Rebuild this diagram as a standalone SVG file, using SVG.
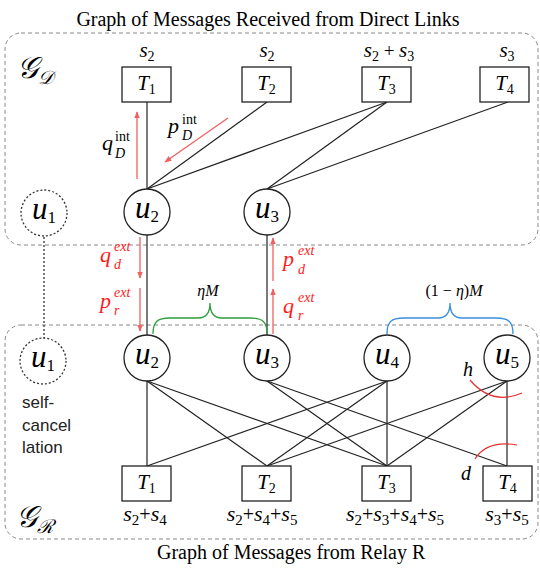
<svg xmlns="http://www.w3.org/2000/svg" width="540" height="568" viewBox="0 0 540 568">
<style>
.mi{font-family:"Liberation Serif","DejaVu Serif",serif;font-style:italic}
.rm{font-family:"Liberation Serif","DejaVu Serif",serif;font-style:normal}
.sans{font-family:"Liberation Sans",Arial,sans-serif}
.box{fill:#fff;stroke:#222;stroke-width:1.3}
.node{fill:#fff;stroke:#222;stroke-width:1.3}
.dot{fill:#fff;stroke:#333;stroke-width:1.3;stroke-dasharray:2 2}
.area{fill:none;stroke:#888;stroke-width:1;stroke-dasharray:4 3}
.edge{stroke:#222;stroke-width:1.2;fill:none}
.rarr{stroke:#f06060;stroke-width:1.3;fill:none}
.red{fill:#ff1a1a}
</style>
<defs>
<marker id="ah" viewBox="0 0 10 10" refX="9" refY="5" markerWidth="7" markerHeight="7" orient="auto" markerUnits="userSpaceOnUse">
<path d="M0,1 L10,5 L0,9 z" fill="#f06060"/>
</marker>
</defs>
<rect width="540" height="568" fill="#fff"/>

<text x="268" y="26" text-anchor="middle" class="rm" font-size="20">Graph of Messages Received from Direct Links</text>
<text x="157" y="559" class="rm" font-size="20">Graph of Messages from Relay R</text>

<g id="areaD">
<rect class="area" x="5" y="33" width="533" height="212" rx="16"/>
<text x="17" y="78" class="mi" font-size="30">𝒢<tspan dy="6" font-size="19">𝒟</tspan></text>
</g>
<g id="areaR">
<rect class="area" x="5" y="325" width="533" height="214" rx="16"/>
<text x="16" y="527" class="mi" font-size="30">𝒢<tspan dy="6" font-size="19">ℛ</tspan></text>
</g>

<g id="connectors">
<!-- top graph -->
<line class="edge" x1="147" y1="189" x2="147" y2="102"/>
<line class="edge" x1="147" y1="189" x2="267" y2="102"/>
<line class="edge" x1="147" y1="189" x2="387" y2="102"/>
<line class="edge" x1="267" y1="189" x2="387" y2="102"/>
<line class="edge" x1="267" y1="189" x2="508" y2="102"/>
<!-- between -->
<line class="edge" x1="147" y1="235" x2="147" y2="335"/>
<line class="edge" x1="267" y1="235" x2="267" y2="335"/>
<line x1="44" y1="237" x2="44" y2="339" stroke="#333" stroke-width="1.3" stroke-dasharray="2 2"/>
<!-- bottom graph -->
<line class="edge" x1="147" y1="381" x2="147" y2="466"/>
<line class="edge" x1="147" y1="381" x2="267" y2="466"/>
<line class="edge" x1="147" y1="381" x2="387" y2="466"/>
<line class="edge" x1="267" y1="381" x2="387" y2="466"/>
<line class="edge" x1="267" y1="381" x2="507" y2="466"/>
<line class="edge" x1="387" y1="381" x2="147" y2="466"/>
<line class="edge" x1="387" y1="381" x2="267" y2="466"/>
<line class="edge" x1="387" y1="381" x2="387" y2="466"/>
<line class="edge" x1="507" y1="381" x2="267" y2="466"/>
<line class="edge" x1="507" y1="381" x2="387" y2="466"/>
<line class="edge" x1="507" y1="381" x2="507" y2="466"/>
<!-- red flow arrows -->
<line class="rarr" x1="137" y1="179" x2="137" y2="112" marker-end="url(#ah)"/>
<line class="rarr" x1="228" y1="118" x2="165" y2="162" marker-end="url(#ah)"/>
<line class="rarr" x1="140" y1="237" x2="140" y2="278" marker-end="url(#ah)"/>
<line class="rarr" x1="140" y1="288" x2="140" y2="331" marker-end="url(#ah)"/>
<line class="rarr" x1="273" y1="281" x2="273" y2="238" marker-end="url(#ah)"/>
<line class="rarr" x1="273" y1="334" x2="273" y2="289" marker-end="url(#ah)"/>
<!-- braces -->
<path d="M153,334 C153,322 157,318 170,318 L198,318 C206,318 210,313 210,303 C210,313 214,318 222,318 L250,318 C263,318 267,322 267,334" fill="none" stroke="#2e9e3e" stroke-width="1.3"/>
<path d="M387,334 C387,322 391,318 404,318 L438,318 C446,318 450,313 450,303 C450,313 454,318 462,318 L496,318 C509,318 513,322 513,334" fill="none" stroke="#3a8ee0" stroke-width="1.3"/>
<!-- angle arcs -->
<path d="M470,380 Q492,406 522,393" fill="none" stroke="#e53030" stroke-width="1.2"/>
<path d="M475,459 Q487,440 517,445" fill="none" stroke="#e53030" stroke-width="1.2"/>
</g>

<g id="labels">
<text x="102" y="150" class="mi" font-size="22">q</text>
<text x="115" y="141" class="rm" font-size="14">int</text>
<text x="115" y="158" class="mi" font-size="14">D</text>
<text x="168" y="133" class="mi" font-size="22">p</text>
<text x="182" y="124" class="rm" font-size="14">int</text>
<text x="182" y="140" class="mi" font-size="14">D</text>

<text x="100" y="262" class="mi red" font-size="22">q</text>
<text x="114" y="251" class="mi red" font-size="14">ext</text>
<text x="114" y="269" class="mi red" font-size="14">d</text>
<text x="100" y="308" class="mi red" font-size="22">p</text>
<text x="114" y="297" class="mi red" font-size="14">ext</text>
<text x="114" y="315" class="mi red" font-size="14">r</text>

<text x="283" y="266" class="mi red" font-size="22">p</text>
<text x="298" y="255" class="mi red" font-size="14">ext</text>
<text x="298" y="274" class="mi red" font-size="14">d</text>
<text x="283" y="313" class="mi red" font-size="22">q</text>
<text x="298" y="302" class="mi red" font-size="14">ext</text>
<text x="298" y="320" class="mi red" font-size="14">r</text>

<text x="208" y="296" text-anchor="middle" class="mi" font-size="16">ηM</text>
<text x="454" y="296" text-anchor="middle" class="rm" font-size="16">(1 − <tspan class="mi">η</tspan>)<tspan class="mi">M</tspan></text>

<text x="463" y="376" class="mi" font-size="20">h</text>
<text x="461" y="480" class="mi" font-size="20">d</text>

<text x="22" y="408" class="sans" font-size="17" fill="#222">self-</text>
<text x="22" y="431" class="sans" font-size="17" fill="#222">cancel</text>
<text x="22" y="453" class="sans" font-size="17" fill="#222">lation</text>

<text x="147" y="57" text-anchor="middle" class="mi" font-size="21">s<tspan dy="4" font-size="14" class="rm">2</tspan></text>
<text x="267" y="57" text-anchor="middle" class="mi" font-size="21">s<tspan dy="4" font-size="14" class="rm">2</tspan></text>
<text x="389" y="57" text-anchor="middle" class="mi" font-size="21">s<tspan dy="4" font-size="14" class="rm">2</tspan><tspan dy="-4" class="rm" font-family="DejaVu Serif" font-size="19"> + </tspan>s<tspan dy="4" font-size="14" class="rm">3</tspan></text>
<text x="507" y="57" text-anchor="middle" class="mi" font-size="21">s<tspan dy="4" font-size="14" class="rm">3</tspan></text>

<text x="145" y="521" text-anchor="middle" class="mi" font-size="22">s<tspan dy="4" font-size="15" class="rm">2</tspan><tspan dy="-4" class="rm" font-family="DejaVu Serif" font-size="20">+</tspan>s<tspan dy="4" font-size="15" class="rm">4</tspan></text>
<text x="262" y="521" text-anchor="middle" class="mi" font-size="22">s<tspan dy="4" font-size="15" class="rm">2</tspan><tspan dy="-4" class="rm" font-family="DejaVu Serif" font-size="20">+</tspan>s<tspan dy="4" font-size="15" class="rm">4</tspan><tspan dy="-4" class="rm" font-family="DejaVu Serif" font-size="20">+</tspan>s<tspan dy="4" font-size="15" class="rm">5</tspan></text>
<text x="395" y="521" text-anchor="middle" class="mi" font-size="22">s<tspan dy="4" font-size="15" class="rm">2</tspan><tspan dy="-4" class="rm" font-family="DejaVu Serif" font-size="20">+</tspan>s<tspan dy="4" font-size="15" class="rm">3</tspan><tspan dy="-4" class="rm" font-family="DejaVu Serif" font-size="20">+</tspan>s<tspan dy="4" font-size="15" class="rm">4</tspan><tspan dy="-4" class="rm" font-family="DejaVu Serif" font-size="20">+</tspan>s<tspan dy="4" font-size="15" class="rm">5</tspan></text>
<text x="507" y="521" text-anchor="middle" class="mi" font-size="22">s<tspan dy="4" font-size="15" class="rm">3</tspan><tspan dy="-4" class="rm" font-family="DejaVu Serif" font-size="20">+</tspan>s<tspan dy="4" font-size="15" class="rm">5</tspan></text>
</g>

<g id="D_T1"><rect class="box" x="122" y="67" width="49" height="35"/><text x="146.5" y="90" text-anchor="middle" class="mi" font-size="21">T<tspan dy="4" font-size="14" class="rm">1</tspan></text></g>
<g id="D_T2"><rect class="box" x="242" y="67" width="49" height="35"/><text x="266.5" y="90" text-anchor="middle" class="mi" font-size="21">T<tspan dy="4" font-size="14" class="rm">2</tspan></text></g>
<g id="D_T3"><rect class="box" x="362" y="67" width="49" height="35"/><text x="386.5" y="90" text-anchor="middle" class="mi" font-size="21">T<tspan dy="4" font-size="14" class="rm">3</tspan></text></g>
<g id="D_T4"><rect class="box" x="480" y="67" width="49" height="35"/><text x="504.5" y="90" text-anchor="middle" class="mi" font-size="21">T<tspan dy="4" font-size="14" class="rm">4</tspan></text></g>

<g id="D_u1"><circle class="dot" cx="44" cy="213" r="23"/><text x="44" y="219" text-anchor="middle" class="mi" font-size="31">u<tspan dy="4" font-size="17" class="rm">1</tspan></text></g>
<g id="D_u2"><circle class="node" cx="147" cy="212" r="23"/><text x="147" y="218" text-anchor="middle" class="mi" font-size="31">u<tspan dy="4" font-size="17" class="rm">2</tspan></text></g>
<g id="D_u3"><circle class="node" cx="267" cy="212" r="23"/><text x="267" y="218" text-anchor="middle" class="mi" font-size="31">u<tspan dy="4" font-size="17" class="rm">3</tspan></text></g>

<g id="R_u1"><circle class="dot" cx="43" cy="361" r="23"/><text x="43" y="367" text-anchor="middle" class="mi" font-size="31">u<tspan dy="4" font-size="17" class="rm">1</tspan></text></g>
<g id="R_u2"><circle class="node" cx="147" cy="358" r="23"/><text x="147" y="364" text-anchor="middle" class="mi" font-size="31">u<tspan dy="4" font-size="17" class="rm">2</tspan></text></g>
<g id="R_u3"><circle class="node" cx="267" cy="358" r="23"/><text x="267" y="364" text-anchor="middle" class="mi" font-size="31">u<tspan dy="4" font-size="17" class="rm">3</tspan></text></g>
<g id="R_u4"><circle class="node" cx="387" cy="358" r="23"/><text x="387" y="364" text-anchor="middle" class="mi" font-size="31">u<tspan dy="4" font-size="17" class="rm">4</tspan></text></g>
<g id="R_u5"><circle class="node" cx="507" cy="358" r="23"/><text x="507" y="364" text-anchor="middle" class="mi" font-size="31">u<tspan dy="4" font-size="17" class="rm">5</tspan></text></g>

<g id="R_T1"><rect class="box" x="122" y="466" width="49" height="35"/><text x="146.5" y="489" text-anchor="middle" class="mi" font-size="21">T<tspan dy="4" font-size="14" class="rm">1</tspan></text></g>
<g id="R_T2"><rect class="box" x="242" y="466" width="49" height="35"/><text x="266.5" y="489" text-anchor="middle" class="mi" font-size="21">T<tspan dy="4" font-size="14" class="rm">2</tspan></text></g>
<g id="R_T3"><rect class="box" x="362" y="466" width="49" height="35"/><text x="386.5" y="489" text-anchor="middle" class="mi" font-size="21">T<tspan dy="4" font-size="14" class="rm">3</tspan></text></g>
<g id="R_T4"><rect class="box" x="483" y="466" width="49" height="35"/><text x="507.5" y="489" text-anchor="middle" class="mi" font-size="21">T<tspan dy="4" font-size="14" class="rm">4</tspan></text></g>
</svg>
